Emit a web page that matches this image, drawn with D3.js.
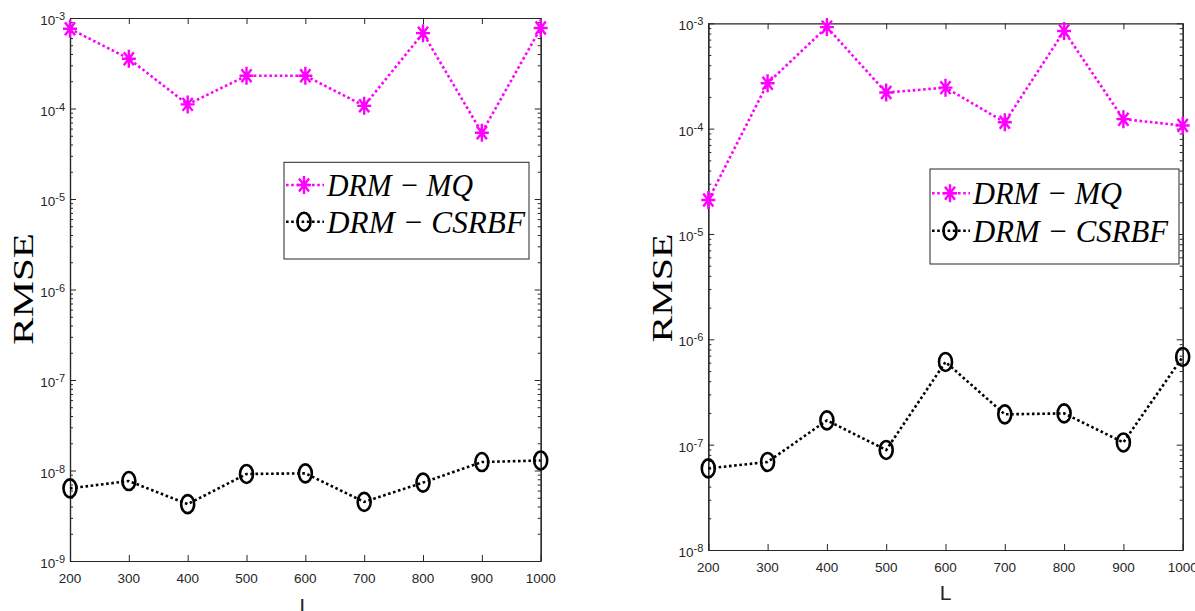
<!DOCTYPE html>
<html>
<head>
<meta charset="utf-8">
<script src="https://cdn.jsdelivr.net/npm/d3@7"></script>
<style>
  body { margin: 0; background: #fff; }
  svg { display: block; }
  .tick-label { font-family: "Liberation Sans Narrow", "Arial Narrow", "Liberation Sans", Arial, sans-serif; fill: #262626; }
  .legend-text { font-family: "Liberation Serif", "Times New Roman", serif; font-style: italic; fill: #000; }
</style>
</head>
<body>
<svg id="chart" width="1195" height="611"></svg>
<script>
"use strict";

const xValues = [200, 300, 400, 500, 600, 700, 800, 900, 1000];
const seriesNames = ["DRM \u2212 MQ", "DRM \u2212 CSRBF"];

// left panel
const leftMQ = [7.6e-4, 3.55e-4, 1.11e-4, 2.3e-4, 2.3e-4, 1.07e-4, 6.8e-4, 5.4e-5, 7.75e-4];
const leftCSRBF = [6.35e-9, 7.65e-9, 4.25e-9, 9.15e-9, 9.3e-9, 4.5e-9, 7.35e-9, 1.24e-8, 1.29e-8];
const leftExponents = [-3, -4, -5, -6, -7, -8, -9];

// right panel
const rightMQ = [2.1e-5, 2.7e-4, 9.2e-4, 2.2e-4, 2.45e-4, 1.15e-4, 8.45e-4, 1.23e-4, 1.07e-4];
const rightCSRBF = [5.95e-8, 6.85e-8, 1.7e-7, 8.9e-8, 6.1e-7, 1.94e-7, 1.98e-7, 1.05e-7, 6.8e-7];
const rightExponents = [-3, -4, -5, -6, -7, -8];

const yLabel = "RMSE";
const xLabel = "L";

const svg = d3.select("#chart");
const DOTS = "2.6 2.6";

function drawStar(g, cx, cy, color) {
  const hw = 7, hh = 9;
  const d = `M${cx - hw},${cy}L${cx + hw},${cy}` +
    `M${cx},${cy - hh}L${cx},${cy + hh}` +
    `M${cx - hw * 0.72},${cy - hh * 0.72}L${cx + hw * 0.72},${cy + hh * 0.72}` +
    `M${cx - hw * 0.72},${cy + hh * 0.72}L${cx + hw * 0.72},${cy - hh * 0.72}`;
  g.append("path").attr("d", d).attr("stroke", color).attr("stroke-width", 2.4).attr("fill", "none");
}

function drawCircle(g, cx, cy) {
  g.append("ellipse")
    .attr("cx", cx).attr("cy", cy)
    .attr("rx", 6.5).attr("ry", 9)
    .attr("fill", "none").attr("stroke", "#000").attr("stroke-width", 2.6);
}

function drawPanel(p) {
  const x = d3.scaleLinear().domain([200, 1000]).range([p.left, p.right]);
  const lo = Math.pow(10, d3.min(p.exponents));
  const hi = Math.pow(10, d3.max(p.exponents));
  const y = d3.scaleLog().domain([lo, hi]).range([p.bottom, p.top]);

  const g = svg.append("g");
  const majors = p.exponents.map(e => Math.pow(10, e));
  const minors = y.ticks().filter(v => !majors.some(m => Math.abs(v / m - 1) < 1e-6));

  const axisStyle = sel => {
    sel.select(".domain").attr("stroke", "#262626").attr("stroke-width", 1.2);
    sel.selectAll(".tick line").attr("stroke", "#262626").attr("stroke-width", 1);
    sel.selectAll("text").remove();
  };

  // box with inward ticks
  g.append("g").attr("transform", `translate(0,${p.bottom})`)
    .call(d3.axisBottom(x).tickValues(xValues).tickSizeInner(-6).tickSizeOuter(0)).call(axisStyle);
  g.append("g").attr("transform", `translate(0,${p.top})`)
    .call(d3.axisTop(x).tickValues(xValues).tickSizeInner(-6).tickSizeOuter(0)).call(axisStyle);
  g.append("g").attr("transform", `translate(${p.left},0)`)
    .call(d3.axisLeft(y).tickValues(majors).tickSizeInner(-6).tickSizeOuter(0)).call(axisStyle);
  g.append("g").attr("transform", `translate(${p.left},0)`)
    .call(d3.axisLeft(y).tickValues(minors).tickSizeInner(-3).tickSizeOuter(0)).call(axisStyle);
  g.append("g").attr("transform", `translate(${p.right},0)`)
    .call(d3.axisRight(y).tickValues(majors).tickSizeInner(-6).tickSizeOuter(0)).call(axisStyle);
  g.append("g").attr("transform", `translate(${p.right},0)`)
    .call(d3.axisRight(y).tickValues(minors).tickSizeInner(-3).tickSizeOuter(0)).call(axisStyle);

  // x tick labels
  g.selectAll(".xlab").data(xValues).enter().append("text")
    .attr("class", "tick-label")
    .attr("x", d => x(d)).attr("y", p.bottom + 22)
    .attr("text-anchor", "middle").attr("font-size", 13.5)
    .text(d => d);

  // y tick labels 10^e
  const yl = g.selectAll(".ylab").data(p.exponents).enter().append("text")
    .attr("class", "tick-label")
    .attr("x", p.left - 5).attr("y", d => y(Math.pow(10, d)) + 7)
    .attr("text-anchor", "end").attr("font-size", 13.5);
  yl.append("tspan").text("10");
  yl.append("tspan").attr("font-size", 11).attr("dy", -5).text(d => d);

  // y label
  svg.append("text")
    .attr("transform", `translate(${p.ylabX},${p.ylabY}) rotate(-90)`)
    .attr("text-anchor", "middle")
    .attr("font-family", "'Liberation Serif', 'Times New Roman', serif")
    .attr("font-size", 30)
    .attr("textLength", p.ylabLen).attr("lengthAdjust", "spacingAndGlyphs")
    .attr("fill", "#000")
    .text(yLabel);

  // x label
  svg.append("text")
    .attr("x", x(600)).attr("y", p.xlabY)
    .attr("text-anchor", "middle")
    .attr("font-family", "'Liberation Sans', Arial, sans-serif")
    .attr("font-size", 21).attr("fill", "#262626")
    .text(xLabel);

  const line = d3.line().x((d, i) => x(xValues[i])).y(d => y(d));

  g.append("path").datum(p.mq).attr("d", line)
    .attr("fill", "none").attr("stroke", "#ff00ff")
    .attr("stroke-width", 2.6).attr("stroke-dasharray", DOTS);
  g.append("path").datum(p.cs).attr("d", line)
    .attr("fill", "none").attr("stroke", "#000")
    .attr("stroke-width", 2.6).attr("stroke-dasharray", DOTS);

  p.mq.forEach((v, i) => drawStar(g, x(xValues[i]), y(v), "#ff00ff"));
  p.cs.forEach((v, i) => drawCircle(g, x(xValues[i]), y(v)));

  // legend
  const L = p.legend;
  const lg = svg.append("g");
  lg.append("rect").attr("x", L.x).attr("y", L.y).attr("width", L.w).attr("height", L.h)
    .attr("fill", "#fff").attr("stroke", "#262626").attr("stroke-width", 1);
  const colors = ["#ff00ff", "#000"];
  seriesNames.forEach((name, i) => {
    const cy = L.rows[i];
    lg.append("line").attr("x1", L.x + 2).attr("x2", L.x + 40).attr("y1", cy).attr("y2", cy)
      .attr("stroke", colors[i]).attr("stroke-width", 2.6).attr("stroke-dasharray", DOTS);
    if (i === 0) drawStar(lg, L.x + 20, cy, colors[i]);
    else drawCircle(lg, L.x + 20, cy);
    lg.append("text").attr("class", "legend-text")
      .attr("x", L.x + 43).attr("y", cy + 11)
      .attr("font-size", 32)
      .attr("textLength", L.tl[i]).attr("lengthAdjust", "spacingAndGlyphs")
      .text(name);
  });
}

drawPanel({
  left: 70, right: 540.7, top: 18, bottom: 561,
  exponents: leftExponents, mq: leftMQ, cs: leftCSRBF,
  ylabX: 33, ylabY: 289, ylabLen: 112, xlabY: 612.5,
  legend: { x: 284, y: 162.3, w: 245, h: 96.7, rows: [185, 221.7], tl: [146, 198] }
});

drawPanel({
  left: 708.3, right: 1182.7, top: 23.3, bottom: 550,
  exponents: rightExponents, mq: rightMQ, cs: rightCSRBF,
  ylabX: 672, ylabY: 288, ylabLen: 109, xlabY: 600,
  legend: { x: 930, y: 169, w: 249, h: 95, rows: [193.3, 230.7], tl: [149, 195] }
});
</script>
</body>
</html>
